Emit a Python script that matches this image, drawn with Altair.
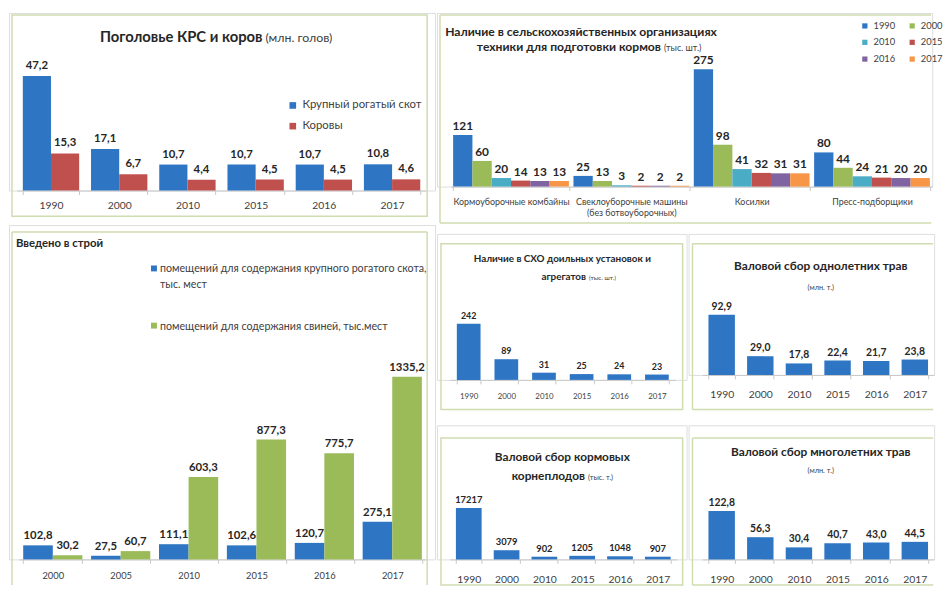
import altair as alt
import pandas as pd

# ---------------- data ----------------
YEARS = ["1990", "2000", "2010", "2015", "2016", "2017"]

HERD_SERIES = ["Крупный рогатый скот", "Коровы"]
HERD_CATTLE = [47.2, 17.1, 10.7, 10.7, 10.7, 10.8]
HERD_COWS = [15.3, 6.7, 4.4, 4.5, 4.5, 4.6]

MACH_CATS = ["Кормоуборочные комбайны",
             "Свеклоуборочные машины|(без ботвоуборочных)",
             "Косилки", "Пресс-подборщики"]
MACH_FORAGE = [121, 60, 20, 14, 13, 13]
MACH_BEET = [25, 13, 3, 2, 2, 2]
MACH_MOWERS = [275, 98, 41, 32, 31, 31]
MACH_BALERS = [80, 44, 24, 21, 20, 20]

BUILT_YEARS = ["2000", "2005", "2010", "2015", "2016", "2017"]
BUILT_SERIES = ["помещений для содержания крупного рогатого скота, тыс. мест",
                "помещений для содержания свиней, тыс.мест"]
BUILT_CATTLE = [102.8, 27.5, 111.1, 102.6, 120.7, 275.1]
BUILT_PIGS = [30.2, 60.7, 603.3, 877.3, 775.7, 1335.2]

MILKING = [242, 89, 31, 25, 24, 23]
ANNUAL_GRASS = [92.9, 29.0, 17.8, 22.4, 21.7, 23.8]
ROOT_CROPS = [17217, 3079, 902, 1205, 1048, 907]
PERENNIAL_GRASS = [122.8, 56.3, 30.4, 40.7, 43.0, 44.5]

# ---------------- styles ----------------
BLUE = "#2e75c4"
RED = "#c0504d"
GREEN = "#9bbb59"
CYAN = "#4bacc6"
PURPLE = "#8064a2"
ORANGE = "#f79646"
FRAME = "#cfdcb0"
INK = "#262626"
GREY = "#404040"
AXIS = "#c8c8c8"
FONT = "Lato, 'Open Sans', sans-serif"
ONE = pd.DataFrame({"k": [0]})

DEC = "replace(format(datum.v, '.1f'), '.', ',')"
INT = "format(datum.v, 'd')"

RIGHT = 942    # right edge of the layout (page px)
BOTTOM = 586   # bottom edge of the layout (page px)

# Each panel's view starts at its cell's top-left corner (page coordinates below).


def note(s, o, x, y, size, bold=False, align="center", color=INK, lh=None):
    kw = dict(text=s, align=align, baseline="alphabetic", fontSize=size,
              fontWeight="bold" if bold else "normal", font=FONT, color=color)
    if lh is not None:
        kw["lineHeight"] = lh
    return alt.Chart(ONE).mark_text(**kw).encode(x=alt.value(x - o[0]), y=alt.value(y - o[1]))


def box(o, x1, y1, x2, y2, sides="tlbr"):
    ox, oy = o
    if sides == "tlbr":
        return [alt.Chart(ONE).mark_rect(fillOpacity=0, stroke=FRAME, strokeWidth=1.5).encode(
            x=alt.value(x1 - ox), x2=alt.value(x2 - ox), y=alt.value(y1 - oy), y2=alt.value(y2 - oy))]
    segs = {"t": (x1, y1, x2, y1), "l": (x1, y1, x1, y2), "b": (x1, y2, x2, y2), "r": (x2, y1, x2, y2)}
    out = []
    for s in sides:
        a, b, c, d = segs[s]
        out.append(alt.Chart(ONE).mark_rule(stroke=FRAME, strokeWidth=1.5).encode(
            x=alt.value(a - ox), x2=alt.value(c - ox), y=alt.value(b - oy), y2=alt.value(d - oy)))
    return out


def cell(o, x2, y2):
    return alt.Chart(ONE).mark_rect(opacity=0).encode(
        x=alt.value(0), x2=alt.value(x2 - o[0]), y=alt.value(0), y2=alt.value(y2 - o[1]))


def xaxis(size, pad, expr=None):
    kw = dict(title=None, labelAngle=0, labelFontSize=size, labelFont=FONT, labelColor=GREY,
              labelPadding=pad, domainColor=AXIS, tickColor=AXIS, tickSize=4,
              tickBand="extent", labelLimit=300)
    if expr:
        kw["labelExpr"] = expr
    return alt.Axis(**kw)


def xscale(o, a, b, pi, po):
    return alt.Scale(range=[a - o[0], b - o[0]], paddingInner=pi, paddingOuter=po)


def single(values, fmt, o, corner, base, ppu, xr, pi, axsize, axpad, lblsize, texts, boxes):
    df = pd.DataFrame({"year": YEARS, "v": values})
    h = base - o[1]
    xs = alt.X("year:N", sort=YEARS, scale=xscale(o, xr[0], xr[1], pi, pi / 2),
               axis=xaxis(axsize, axpad))
    ys = alt.Y("v:Q", scale=alt.Scale(domain=[0, h / ppu], nice=False, zero=True), axis=None)
    bars = alt.Chart(df).mark_bar(color=BLUE).encode(x=xs, y=ys)
    lbl = alt.Chart(df).transform_calculate(lbl=fmt).mark_text(
        baseline="alphabetic", dy=-5, fontSize=lblsize, fontWeight="bold", font=FONT, color=INK
    ).encode(x=alt.X("year:N", sort=YEARS), y=alt.Y("v:Q"), text="lbl:N")
    return alt.layer(cell(o, *corner), *boxes, bars, lbl, *texts).properties(
        width=corner[0] - o[0], height=h)


# ---------------- panel A: herd ----------------
oA = (8, 8)
herd = pd.DataFrame({
    "year": YEARS * 2,
    "s": [HERD_SERIES[0]] * 6 + [HERD_SERIES[1]] * 6,
    "v": HERD_CATTLE + HERD_COWS,
})
hA = 188 - oA[1]
xA = alt.X("year:N", sort=YEARS, scale=xscale(oA, 16, 431, 0.174, 0.087), axis=xaxis(10.5, 6))
yA = alt.Y("v:Q", scale=alt.Scale(domain=[0, hA / 2.46], nice=False), axis=None)
barsA = alt.Chart(herd).mark_bar().encode(
    x=xA, y=yA, xOffset=alt.XOffset("s:N", sort=HERD_SERIES),
    color=alt.Color("s:N", sort=HERD_SERIES,
                    scale=alt.Scale(domain=HERD_SERIES, range=[BLUE, RED]),
                    legend=alt.Legend(orient="none", legendX=290 - oA[0], legendY=96 - oA[1],
                                      title=None, labelFontSize=11.5, labelFont=FONT,
                                      labelColor=GREY, symbolType="square", symbolSize=45,
                                      symbolStrokeWidth=0, rowPadding=8, padding=0)))
lblA = alt.Chart(herd).transform_calculate(lbl=DEC).mark_text(
    baseline="alphabetic", dy=-7, fontSize=11.5, fontWeight="bold", font=FONT, color=INK
).encode(x=alt.X("year:N", sort=YEARS), xOffset=alt.XOffset("s:N", sort=HERD_SERIES),
         y="v:Q", text="lbl:N")
panelA = alt.layer(
    cell(oA, 440, 221), *box(oA, 11, 10, 432, 214), barsA, lblA,
    note("Поголовье КРС и коров", oA, 265, 37, 15, bold=True, align="right"),
    note("(млн. голов)", oA, 268, 37, 12.5, align="left", color=GREY),
).properties(width=440 - oA[0], height=hA)

# ---------------- panel B: machinery ----------------
oB = (440, 8)
rows = []
for cat, vals in zip(MACH_CATS, [MACH_FORAGE, MACH_BEET, MACH_MOWERS, MACH_BALERS]):
    for yr, v in zip(YEARS, vals):
        rows.append({"cat": cat, "year": yr, "v": v})
mach = pd.DataFrame(rows)
hB = 184 - oB[1]
xB = alt.X("cat:N", sort=MACH_CATS, scale=xscale(oB, 454, RIGHT, 0.038, 0.019),
           axis=xaxis(9, 7, expr="split(datum.label, '|')"))
yB = alt.Y("v:Q", scale=alt.Scale(domain=[0, hB / 0.433], nice=False), axis=None)
barsB = alt.Chart(mach).mark_bar().encode(
    x=xB, y=yB, xOffset=alt.XOffset("year:N", sort=YEARS),
    color=alt.Color("year:N", sort=YEARS,
                    scale=alt.Scale(domain=YEARS, range=[BLUE, GREEN, CYAN, RED, PURPLE, ORANGE]),
                    legend=alt.Legend(orient="none", legendX=869 - oB[0], legendY=16 - oB[1],
                                      title=None, columns=2, direction="horizontal",
                                      labelFontSize=9.5, labelFont=FONT, labelColor=GREY,
                                      symbolType="square", symbolSize=28, symbolStrokeWidth=0,
                                      rowPadding=6, columnPadding=12, padding=0)))
lblB = alt.Chart(mach).transform_calculate(lbl=INT).mark_text(
    baseline="alphabetic", dy=-5, fontSize=12, fontWeight="bold", font=FONT, color=INK
).encode(x=alt.X("cat:N", sort=MACH_CATS), xOffset=alt.XOffset("year:N", sort=YEARS),
         y="v:Q", text="lbl:N")
panelB = alt.layer(
    cell(oB, RIGHT, 230), *box(oB, 443, 10, RIGHT - 1, 221, sides="tlb"), barsB, lblB,
    note("Наличие в сельскохозяйственных организациях", oB, 586, 31, 12.3, bold=True),
    note("техники для подготовки кормов", oB, 667, 47, 12.3, bold=True, align="right"),
    note("(тыс. шт.)", oB, 670, 47, 9, align="left", color=GREY),
).properties(width=RIGHT - oB[0], height=hB)

# ---------------- panel C: commissioned ----------------
oC = (8, 221)
built = pd.DataFrame({
    "year": BUILT_YEARS * 2,
    "s": [BUILT_SERIES[0]] * 6 + [BUILT_SERIES[1]] * 6,
    "v": BUILT_CATTLE + BUILT_PIGS,
})
hC = 560 - oC[1]
xC = alt.X("year:N", sort=BUILT_YEARS, scale=xscale(oC, 18, 431, 0.128, 0.064), axis=xaxis(9.5, 7))
yC = alt.Y("v:Q", scale=alt.Scale(domain=[0, hC / 0.1386], nice=False), axis=None)
barsC = alt.Chart(built).mark_bar().encode(
    x=xC, y=yC, xOffset=alt.XOffset("s:N", sort=BUILT_SERIES),
    color=alt.Color("s:N", sort=BUILT_SERIES, scale=alt.Scale(domain=BUILT_SERIES, range=[BLUE, GREEN]),
                    legend=None))
lblC = alt.Chart(built).transform_calculate(lbl=DEC).mark_text(
    baseline="alphabetic", dy=-6, fontSize=11.5, fontWeight="bold", font=FONT, color=INK
).encode(x=alt.X("year:N", sort=BUILT_YEARS), xOffset=alt.XOffset("s:N", sort=BUILT_SERIES),
         y="v:Q", text="lbl:N")
s0a, s0b = BUILT_SERIES[0].split(", ", 1)
legC = [
    alt.Chart(ONE).mark_square(size=36, color=BLUE, opacity=1).encode(
        x=alt.value(155 - oC[0]), y=alt.value(265 - oC[1])),
    note([s0a + ",", s0b], oC, 161, 269, 10.8, align="left", color=GREY, lh=16),
    alt.Chart(ONE).mark_square(size=36, color=GREEN, opacity=1).encode(
        x=alt.value(155 - oC[0]), y=alt.value(323 - oC[1])),
    note(BUILT_SERIES[1], oC, 161, 327, 10.8, align="left", color=GREY),
]
panelC = alt.layer(
    cell(oC, 440, BOTTOM), *box(oC, 11, 228, 432, BOTTOM, sides="tlr"), barsC, lblC,
    note("Введено в строй", oC, 15, 243, 11.5, bold=True, align="left"),
    *legC,
).properties(width=440 - oC[0], height=hC)

# ---------------- small panels ----------------
oD = (440, 230)
panelD = single(MILKING, INT, oD, (693, 422), 378, 0.2355, (453, 682), 0.37, 8, 9, 9,
                [note("Наличие в СХО доильных установок и", oD, 567, 258, 10, bold=True),
                 note("агрегатов", oD, 591, 277, 10, bold=True, align="right"),
                 note("(тыс. шт.)", oD, 594, 277, 6.5, align="left", color=GREY)],
                box(oD, 444, 240, 689, 408))

oE = (693, 230)
panelE = single(ANNUAL_GRASS, DEC, oE, (RIGHT, 422), 373, 0.657, (707, RIGHT), 0.316, 10.5, 11, 10.5,
                [note("Валовой сбор однолетних трав", oE, 827, 267, 12, bold=True),
                 note("(млн. т.)", oE, 827, 287, 7.5, color=GREY)],
                box(oE, 697, 240, RIGHT - 1, 408, sides="tlb"))

oF = (440, 422)
panelF = single(ROOT_CROPS, INT, oF, (693, BOTTOM), 558, 0.00302, (453, 683), 0.32, 10.5, 11, 9.5,
                [note("Валовой сбор кормовых", oF, 567, 458, 12, bold=True),
                 note("корнеплодов", oF, 590, 477, 12, bold=True, align="right"),
                 note("(тыс. т.)", oF, 593, 477, 7.5, align="left", color=GREY)],
                box(oF, 444, 435, 689, BOTTOM - 2))

oG = (693, 422)
panelG = single(PERENNIAL_GRASS, DEC, oG, (RIGHT, BOTTOM), 558, 0.4, (707, RIGHT), 0.316, 10.5, 11, 10.5,
                [note("Валовой сбор многолетних трав", oG, 827, 453, 12, bold=True),
                 note("(млн. т.)", oG, 827, 470, 7.5, color=GREY)],
                box(oG, 697, 435, RIGHT - 1, BOTTOM - 2, sides="tlb"))

IND = dict(color="independent", xOffset="independent", x="independent", y="independent")


def stack(charts, cols):
    return alt.concat(*charts, columns=cols, spacing=0, bounds="full").resolve_scale(**IND)


left = stack([panelA, panelC], 1)
rowDE = stack([panelD, panelE], 2)
rowFG = stack([panelF, panelG], 2)
right = stack([panelB, rowDE, rowFG], 1)
chart = stack([left, right], 2).properties(padding=0).configure_view(
    stroke=None).configure(font=FONT)

chart.save("out.html", embed_options={"renderer": "svg", "actions": False})
